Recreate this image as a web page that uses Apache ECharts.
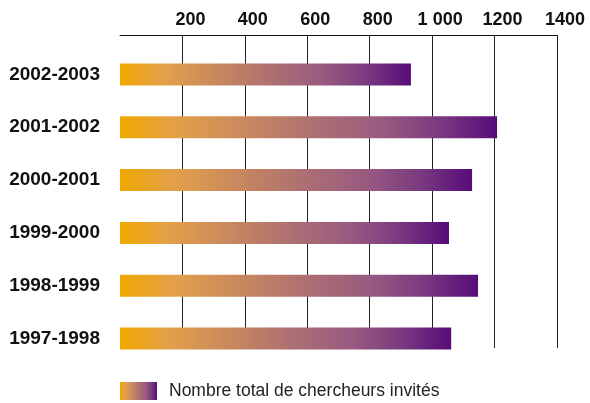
<!DOCTYPE html>
<html>
<head>
<meta charset="utf-8">
<script src="https://cdn.jsdelivr.net/npm/echarts@6/dist/echarts.min.js"></script>
<style>html,body{margin:0;padding:0;background:#fff}#c{width:590px;height:403px}</style>
</head>
<body>
<div id="c"></div>
<script>
const categories = ['2002-2003', '2001-2002', '2000-2001', '1999-2000', '1998-1999', '1997-1998'];
const values = [932, 1208, 1128, 1054, 1147, 1061];
const seriesName = 'Nombre total de chercheurs invités';
const axisMin = 0, axisMax = 1400, axisStep = 200;

const chart = echarts.init(document.getElementById('c'), null, {renderer: 'canvas'});
const grad = new echarts.graphic.LinearGradient(0, 0, 1, 0, [
  {offset: 0, color: '#F0A800'},
  {offset: 0.15, color: '#E3A04A'},
  {offset: 0.5, color: '#B07270'},
  {offset: 0.7, color: '#985A80'},
  {offset: 0.85, color: '#7A3A80'},
  {offset: 1, color: '#560C78'}
]);
const font = 'Liberation Sans';
chart.setOption({
  animation: false,
  textStyle: {fontFamily: font},
  grid: [
    {left: 120, right: 33, top: 35, height: 313},
    {left: 120, right: 33, top: 48, height: 317}
  ],
  xAxis: [
    {gridIndex: 0, type: 'value', position: 'top', min: axisMin, max: axisMax, interval: axisStep,
     axisLine: {show: true, onZero: false, lineStyle: {color: '#111', width: 1}},
     axisTick: {show: false},
     splitLine: {show: true, showMinLine: false, lineStyle: {color: '#222', width: 1}},
     axisLabel: {fontFamily: font, fontWeight: 'bold', fontSize: 18, color: '#111', margin: 6,
       padding: [0, 0, 0, 16],
       formatter: v => v === 0 ? '' : (v === 1000 ? '1 000' : String(v))}},
    {gridIndex: 1, type: 'value', min: axisMin, max: axisMax, show: false,
     axisLine: {show: false}, splitLine: {show: false}}
  ],
  yAxis: [
    {gridIndex: 0, type: 'value', show: false, min: 0, max: 1,
     axisLine: {show: false}, splitLine: {show: false}},
    {gridIndex: 1, type: 'category', inverse: true, data: categories,
     axisLine: {show: false}, axisTick: {show: false}, splitLine: {show: false},
     axisLabel: {fontFamily: font, fontWeight: 'bold', fontSize: 19, color: '#111', margin: 20}}
  ],
  legend: {
    left: 120, top: 382, padding: 0, itemWidth: 37, itemHeight: 18, itemGap: 10, icon: 'rect',
    textStyle: {fontFamily: font, fontSize: 17.5, color: '#222', padding: [0, 0, 0, 7]},
    data: [seriesName]
  },
  series: [{
    name: seriesName, type: 'bar', xAxisIndex: 1, yAxisIndex: 1,
    data: values, barWidth: 22,
    itemStyle: {color: grad}
  }]
});
</script>
</body>
</html>
